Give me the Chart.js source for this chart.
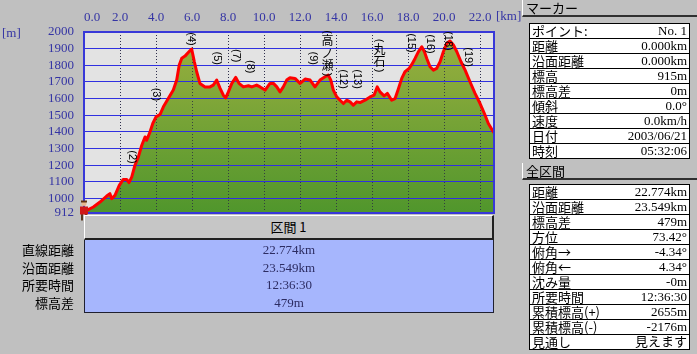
<!DOCTYPE html>
<html><head><meta charset="utf-8">
<script src="https://cdn.jsdelivr.net/npm/chart.js@4/dist/chart.umd.min.js"></script>
<style>
html,body{margin:0;padding:0;}
body{background:#c0c0c0;width:697px;height:354px;overflow:hidden;position:relative;font-family:"Noto Sans CJK JP",sans-serif;font-size:13px;color:#000;}
#c{position:absolute;left:0;top:0;}
.abs{position:absolute;}
.num{font-family:"Liberation Serif","Noto Sans CJK JP",serif;}
.hdr{position:absolute;left:522px;width:180px;height:15px;line-height:15px;background:#c0c0c0;border-left:1px solid #fff;border-bottom:2px solid #303030;padding-left:3px;box-sizing:content-box;}
.tbl{position:absolute;left:529px;width:161px;border-top:1px solid #000;box-sizing:border-box;}
.row{height:15px;box-sizing:border-box;border-left:1px solid #000;border-right:1px solid #000;border-bottom:1px solid #000;background:#fff;display:flex;justify-content:space-between;align-items:center;padding:0 2px 0 2px;line-height:14px;white-space:nowrap;}
.row .v{font-family:"Liberation Serif","Noto Sans CJK JP",serif;font-size:13px;}
.blue{position:absolute;left:84px;top:240px;width:410px;height:73px;background:#a6b6fd;box-sizing:border-box;border-left:1px solid #202030;border-right:1px solid #202030;border-bottom:1px solid #202030;}
.btn{position:absolute;left:84px;top:215px;width:410px;height:25px;background:#c6c6c6;box-sizing:border-box;border-top:1px solid #fff;border-left:1px solid #fff;border-right:2px solid #202020;border-bottom:2px solid #202020;text-align:center;line-height:22px;}
.axlbl{position:absolute;color:#3434a4;font-family:"Liberation Serif",serif;font-size:13px;}
</style>
</head>
<body>
<canvas id="c" width="697" height="354"></canvas>
<div class="axlbl" style="left:2px;top:25px;">[m]</div>
<div class="axlbl" style="left:496px;top:8px;">[km]</div>
<div class="btn" id="secTitle"></div>
<div class="blue" id="secBox"></div>
<div class="abs" id="secLabels" style="left:0;top:241px;width:74px;text-align:right;"></div>
<div class="hdr" style="top:0;" id="hdr1"></div>
<div class="tbl" style="top:23px;" id="tbl1"></div>
<div class="hdr" style="top:163px;" id="hdr2"></div>
<div class="tbl" style="top:184px;" id="tbl2"></div>
<script>
// ---- profile data (distance km, elevation m) ----
const distKm = [0,0.15,0.52,0.89,1.26,1.44,1.54,1.72,1.96,2.18,2.37,2.50,2.65,2.83,3.02,3.21,3.39,3.48,3.67,3.82,4.00,4.22,4.41,4.68,4.96,5.15,5.29,5.43,5.61,5.83,5.98,6.13,6.26,6.44,6.72,7.00,7.18,7.37,7.56,7.74,7.87,8.02,8.21,8.43,8.61,8.85,9.13,9.32,9.59,9.78,10.06,10.33,10.52,10.71,10.89,11.07,11.26,11.44,11.72,12.00,12.28,12.56,12.83,13.11,13.39,13.57,13.71,13.85,14.04,14.22,14.41,14.59,14.78,14.96,15.15,15.33,15.61,15.89,16.11,16.29,16.44,16.67,16.85,17.09,17.28,17.46,17.65,17.83,18.06,18.21,18.39,18.57,18.76,18.91,19.04,19.22,19.41,19.59,19.78,19.96,20.15,20.33,20.52,20.71,20.94,21.17,21.44,21.72,22.00,22.24,22.46,22.65,22.774];
const elevM = [915,928,948,978,1014,1028,998,1018,1078,1114,1114,1095,1128,1199,1249,1319,1369,1349,1400,1450,1490,1504,1550,1600,1651,1711,1801,1842,1855,1881,1898,1821,1761,1691,1670,1670,1681,1711,1661,1620,1604,1640,1691,1727,1691,1670,1677,1670,1681,1670,1651,1691,1691,1670,1640,1670,1711,1725,1721,1691,1717,1711,1670,1711,1731,1741,1711,1651,1610,1590,1570,1590,1580,1560,1580,1576,1590,1610,1620,1670,1640,1616,1631,1590,1600,1657,1721,1761,1781,1805,1841,1881,1911,1881,1841,1791,1771,1781,1821,1881,1932,1946,1922,1881,1821,1771,1701,1631,1570,1510,1450,1416,1394];
const xTickValues = [0,2,4,6,8,10,12,14,16,18,20,22];
const yTickValues = [912,1000,1100,1200,1300,1400,1500,1600,1700,1800,1900,2000];
const yMin = 912, yMax = 2000;
// waypoint labels
const wayNames = ['(2)','(3)','(4)','(5)','(7)','(8)','(9)','(高ノ瀬)','(12)','(13)','(丸石)','(15)','(16)','(18)','(19)'];
const wayKm   = [2.65,4.00,5.94,7.37,8.43,9.22,12.70,13.52,14.37,15.15,16.41,18.17,19.22,20.24,21.35];
const wayElev = [1249,1625,1958,1842,1857,1791,1842,1872,1717,1717,1858,1934,1928,1946,1849];
// bottom section table
const sectionTitle = '区間 1';
const sectionLabels = ['直線距離','沿面距離','所要時間','標高差'];
const sectionValues = ['22.774km','23.549km','12:36:30','479m'];
// right panel
const markerTitle = 'マーカー';
const markerLabels = ['ポイント:','距離','沿面距離','標高','標高差','傾斜','速度','日付','時刻'];
const markerValues = ['No. 1','0.000km','0.000km','915m','0m','0.0°','0.0km/h','2003/06/21','05:32:06'];
const totalTitle = '全区間';
const totalLabels = ['距離','沿面距離','標高差','方位','俯角→','俯角←','沈み量','所要時間','累積標高(+)','累積標高(-)','見通し'];
const totalValues = ['22.774km','23.549km','479m','73.42°','-4.34°','4.34°','-0m','12:36:30','2655m','-2176m','見えます'];

// ---- build HTML panels ----
document.getElementById('secTitle').textContent = sectionTitle;
const secBox = document.getElementById('secBox');
const secLab = document.getElementById('secLabels');
sectionValues.forEach((v,i)=>{
  const d = document.createElement('div');
  d.className='num';
  d.style.cssText='position:absolute;left:0;width:100%;text-align:center;color:#2c2c62;height:17.5px;line-height:17.5px;top:'+(1+i*17.5)+'px;';
  d.textContent=v; secBox.appendChild(d);
  const l = document.createElement('div');
  l.style.cssText='height:17.5px;line-height:17.5px;';
  l.textContent=sectionLabels[i]; secLab.appendChild(l);
});
document.getElementById('hdr1').textContent = markerTitle;
document.getElementById('hdr2').textContent = totalTitle;
function fillTable(id, labels, values){
  const t = document.getElementById(id);
  labels.forEach((lb,i)=>{
    const r=document.createElement('div'); r.className='row';
    const a=document.createElement('span'); a.textContent=lb;
    const b=document.createElement('span'); b.className='v'; b.textContent=values[i];
    r.appendChild(a); r.appendChild(b); t.appendChild(r);
  });
}
fillTable('tbl1', markerLabels, markerValues);
fillTable('tbl2', totalLabels, totalValues);

// ---- chart ----
const X_MAX = distKm[distKm.length-1];
const pts = distKm.map((x,i)=>({x:x, y:elevM[i]}));
const deco = {
  id:'deco',
  beforeDraw(chart){
    const {ctx, chartArea:a} = chart;
    ctx.save(); ctx.fillStyle='#e3e3e3';
    ctx.fillRect(a.left,a.top,a.right-a.left,a.bottom-a.top); ctx.restore();
  },
  beforeDatasetDraw(chart,args){
    if(args.index===0){
      chart.scales.x.drawGrid(chart.chartArea);
      chart.scales.y.drawGrid(chart.chartArea);
    }
  },
  afterDatasetsDraw(chart){
    const {ctx, chartArea:a, scales} = chart;
    ctx.save();
    // frame
    ctx.strokeStyle='#3838d8'; ctx.lineWidth=2;
    ctx.strokeRect(a.left, a.top, a.right-a.left, a.bottom-a.top);
    // waypoint labels
    ctx.fillStyle='#000';
    wayNames.forEach((n,i)=>{
      const x = scales.x.getPixelForValue(wayKm[i]);
      const y = scales.y.getPixelForValue(wayElev[i]);
      if(/^\(\d+\)$/.test(n)){
        ctx.save(); ctx.translate(x,y); ctx.rotate(Math.PI/2);
        ctx.font='11px "Liberation Sans"'; ctx.textAlign='center'; ctx.textBaseline='middle';
        ctx.fillText(n,0,0); ctx.restore();
      } else {
        const inner=[...n.slice(1,-1)];
        const ph=5, ch=12.5;
        const total=ph*2+ch*inner.length;
        let yy=y-total/2;
        const paren=(s,cy)=>{ctx.save();ctx.translate(x,cy);ctx.rotate(Math.PI/2);ctx.font='11px "Liberation Sans"';ctx.textAlign='center';ctx.textBaseline='middle';ctx.fillText(s,0,0);ctx.restore();};
        paren('(', yy+ph/2); yy+=ph;
        ctx.font='12px "Noto Sans CJK JP"'; ctx.textAlign='center'; ctx.textBaseline='middle';
        inner.forEach(c=>{ctx.fillText(c,x,yy+ch/2); yy+=ch;});
        paren(')', yy+ph/2);
      }
    });
    // hiker marker at first point
    const hx = scales.x.getPixelForValue(distKm[0]);
    const hy = scales.y.getPixelForValue(elevM[0]);
    ctx.fillStyle='#5a3a20'; ctx.fillRect(hx-3,hy+1,2,7); ctx.fillRect(hx+1,hy+1,2,7);
    ctx.fillStyle='#d01818'; ctx.fillRect(hx-4,hy-6,8,8);
    ctx.fillStyle='#e8b890'; ctx.beginPath(); ctx.arc(hx,hy-9,2.5,0,Math.PI*2); ctx.fill();
    ctx.fillStyle='#603010'; ctx.fillRect(hx-3,hy-12,6,2);
    ctx.restore();
  }
};
Chart.defaults.font.family = '"Liberation Serif", serif';
new Chart(document.getElementById('c').getContext('2d'), {
  type:'line',
  data:{datasets:[
    {data:pts, borderColor:'#ff0000', borderWidth:3, pointRadius:0, fill:false, tension:0, borderJoinStyle:'round', borderCapStyle:'round'},
    {data:pts, borderColor:'rgba(0,0,0,0)', borderWidth:0, pointRadius:0, tension:0, fill:'start',
     backgroundColor:(c)=>{const ca=c.chart.chartArea; if(!ca) return '#78a63a';
       const g=c.chart.ctx.createLinearGradient(0,ca.top,0,ca.bottom);
       g.addColorStop(0,'#9cb040'); g.addColorStop(1,'#50962c'); return g;}}
  ]},
  options:{
    responsive:false, animation:false, devicePixelRatio:1,
    layout:{padding:{left:0,top:0,right:203,bottom:141}},
    plugins:{legend:{display:false}, tooltip:{enabled:false}},
    scales:{
      x:{type:'linear', position:'top', min:0, max:X_MAX,
        afterBuildTicks:s=>{ s.ticks = xTickValues.concat([X_MAX]).map(v=>({value:v})); },
        afterFit:s=>{ s.height=32; },
        ticks:{callback:v=> v===X_MAX ? '' : Number(v).toFixed(1), align:'inner', color:'#3434a4',
          font:{size:13}, padding:7, maxRotation:0, minRotation:0, autoSkip:false},
        grid:{drawTicks:false, color:'rgba(40,40,70,0.8)', lineWidth:1},
        border:{display:false, dash:[1,2]}
      },
      y:{min:yMin, max:yMax,
        afterBuildTicks:s=>{ s.ticks = yTickValues.map(v=>({value:v})); },
        afterFit:s=>{ s.width=84; },
        ticks:{callback:v=>String(v), color:'#3434a4', font:{size:13}, padding:10, autoSkip:false},
        grid:{drawTicks:false, color:'#3030e0', lineWidth:1},
        border:{display:false}
      }
    }
  },
  plugins:[deco]
});
</script>
</body></html>
